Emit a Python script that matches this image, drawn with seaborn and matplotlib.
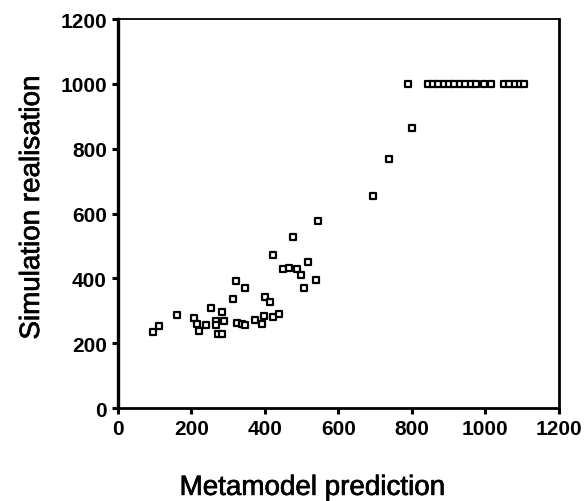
import pandas as pd
import seaborn as sns
import matplotlib
matplotlib.use("Agg")
import matplotlib.pyplot as plt
import matplotlib.patheffects as pe

# values
metamodel_prediction = [96, 112, 161, 208, 214, 220, 239, 253, 268, 273,
                        282, 288, 282, 268, 314, 321, 346, 323, 337, 346,
                        373, 391, 398, 400, 415, 423, 438, 423, 450, 466,
                        486, 498, 518, 506, 539, 545, 477, 693, 738, 799,
                        790, 844, 858, 872, 886, 900, 915, 930, 945, 960,
                        975, 995, 1015, 1050, 1065, 1080, 1095, 1105]
simulation_realisation = [235, 252, 288, 277, 259, 237, 256, 310, 270, 230,
                          298, 268, 230, 256, 336, 393, 370, 262, 259, 257,
                          272, 259, 285, 342, 326, 280, 290, 472, 429, 432,
                          429, 410, 450, 370, 396, 578, 529, 653, 769, 863,
                          1000, 1000, 1000, 1000, 1000, 1000, 1000, 1000, 1000, 1000,
                          1000, 1000, 1000, 1000, 1000, 1000, 1000, 1000]
tick_values = [0, 200, 400, 600, 800, 1000, 1200]

df = pd.DataFrame({"prediction": metamodel_prediction,
                   "realisation": simulation_realisation})

sns.set_style("ticks")
plt.rcParams['font.family'] = ['Liberation Sans', 'DejaVu Sans']
plt.rcParams['text.color'] = 'black'
plt.rcParams['axes.labelcolor'] = 'black'
plt.rcParams['xtick.color'] = 'black'
plt.rcParams['ytick.color'] = 'black'

fig = plt.figure(figsize=(5.84, 5.02), dpi=100)
ax = fig.add_axes([0.202, 0.185, 0.755, 0.775])

sns.scatterplot(data=df, x="prediction", y="realisation", ax=ax,
                marker="s", s=22, facecolor="white", edgecolor="black",
                linewidth=1.6, zorder=3)

ax.set_xlim(0, 1200)
ax.set_ylim(0, 1200)
ax.set_xticks(tick_values)
ax.set_yticks(tick_values)
ax.set_xticklabels([str(v) for v in tick_values], fontsize=15, fontweight="bold")
ax.set_yticklabels([str(v) for v in tick_values], fontsize=15, fontweight="bold")
ax.tick_params(length=4, width=2.2, color="black", pad=4)

for side in ["left", "bottom", "top", "right"]:
    ax.spines[side].set_visible(True)
    ax.spines[side].set_color("black")
ax.spines["left"].set_linewidth(2.4)
ax.spines["bottom"].set_linewidth(2.0)
ax.spines["top"].set_linewidth(1.3)
ax.spines["right"].set_linewidth(2.0)

# scanned labels look heavier than a regular weight
thick = [pe.withStroke(linewidth=0.5, foreground="black")]
ax.set_xlabel("Metamodel prediction", fontsize=20, path_effects=thick)
ax.set_ylabel("Simulation realisation", fontsize=20, path_effects=thick)
ax.xaxis.set_label_coords(0.44, -0.205)
ax.yaxis.set_label_coords(-0.195, 0.515)
ax.xaxis.label.set_va("center")
ax.yaxis.label.set_va("center")

fig.savefig("out.png", dpi=100)
